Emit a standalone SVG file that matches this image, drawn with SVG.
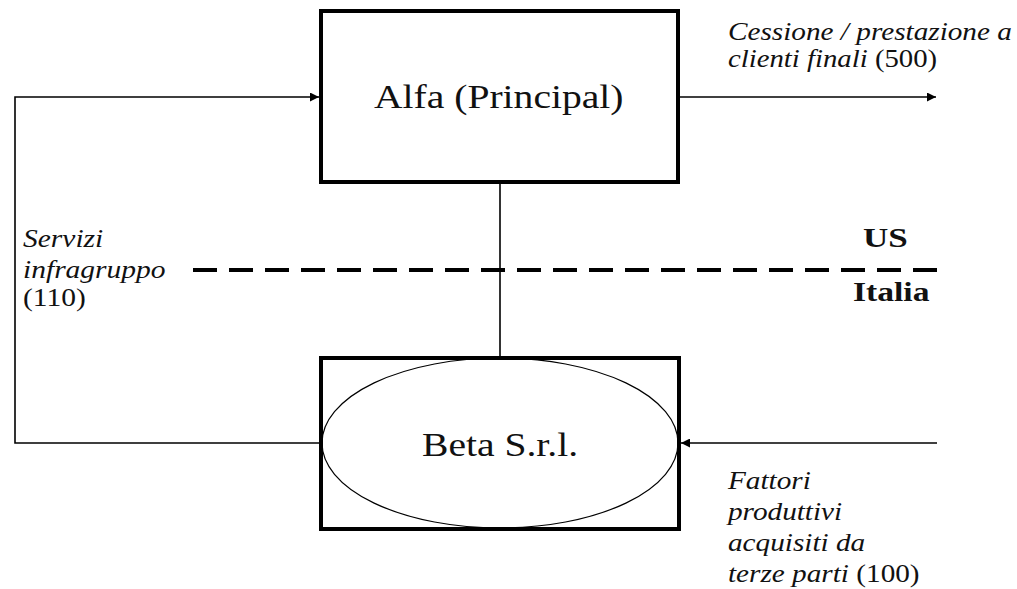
<svg xmlns="http://www.w3.org/2000/svg" width="1017" height="589" viewBox="0 0 1017 589">
<style>
.box{fill:#fff;stroke:#000;stroke-width:4}
.ell{fill:none;stroke:#000;stroke-width:1.2}
.conn{fill:none;stroke:#000;stroke-width:1.6}
.dash{fill:none;stroke:#000;stroke-width:4;stroke-dasharray:24 12}
text{fill:#111}
.main{font-size:33px}
.lab{font-size:25px;font-style:italic}
.num{font-style:normal}
.bold{font-size:28px;font-weight:bold}
</style>
<defs>
<marker id="arr" viewBox="0 0 10 10" refX="10" refY="5" markerWidth="11" markerHeight="9" markerUnits="userSpaceOnUse" orient="auto">
<path d="M0,0 L10,5 L0,10 z" fill="#000"/>
</marker>
</defs>
<rect width="1017" height="589" fill="#fff"/>
<g id="connectors">
<line class="conn" x1="500" y1="182" x2="500" y2="358"/>
<line class="dash" x1="193" y1="270" x2="937" y2="270"/>
<polyline class="conn" points="321,443 15,443 15,97 319,97" marker-end="url(#arr)"/>
<line class="conn" x1="678" y1="97" x2="936" y2="97" marker-end="url(#arr)"/>
<line class="conn" x1="937" y1="443" x2="681" y2="443" marker-end="url(#arr)"/>
</g>
<g id="alfa">
<rect class="box" x="321" y="11" width="357" height="171"/>
<text class="main" font-family="Liberation Serif, serif" transform="translate(374,108) scale(1.2,1)">Alfa (Principal)</text>
</g>
<g id="beta">
<rect class="box" x="321" y="358" width="358" height="171"/>
<ellipse class="ell" cx="500" cy="443" rx="178" ry="85"/>
<text class="main" font-family="Liberation Serif, serif" transform="translate(422,456) scale(1.2,1)">Beta S.r.l.</text>
</g>
<g id="region-labels">
<text class="bold" font-family="Liberation Serif, serif" transform="translate(863,247) scale(1.25,1)">US</text>
<text class="bold" font-family="Liberation Serif, serif" transform="translate(853,301) scale(1.2,1)">Italia</text>
</g>
<g id="label-servizi">
<text class="lab" font-family="Liberation Serif, serif" transform="translate(23,247) scale(1.18,1)">Servizi</text>
<text class="lab" font-family="Liberation Serif, serif" transform="translate(23,278) scale(1.18,1)">infragruppo</text>
<text class="lab num" font-family="Liberation Serif, serif" transform="translate(23,306) scale(1.18,1)">(110)</text>
</g>
<g id="label-cessione">
<text class="lab" font-family="Liberation Serif, serif" transform="translate(728,40) scale(1.17,1)">Cessione / prestazione a</text>
<text class="lab" font-family="Liberation Serif, serif" transform="translate(728,67) scale(1.15,1)">clienti finali <tspan class="num">(500)</tspan></text>
</g>
<g id="label-fattori">
<text class="lab" font-family="Liberation Serif, serif" transform="translate(728,489) scale(1.17,1)">Fattori</text>
<text class="lab" font-family="Liberation Serif, serif" transform="translate(728,520) scale(1.17,1)">produttivi</text>
<text class="lab" font-family="Liberation Serif, serif" transform="translate(728,551) scale(1.17,1)">acquisiti da</text>
<text class="lab" font-family="Liberation Serif, serif" transform="translate(728,582) scale(1.17,1)">terze parti <tspan class="num">(100)</tspan></text>
</g>
</svg>
